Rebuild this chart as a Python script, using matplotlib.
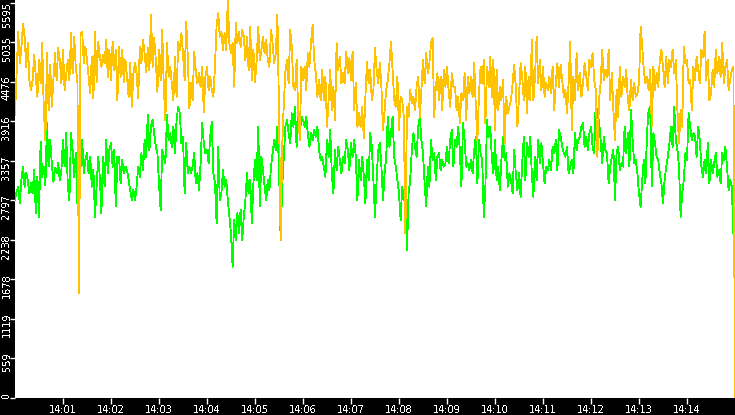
import numpy as np
import matplotlib
matplotlib.use("Agg")
import matplotlib.pyplot as plt
import matplotlib.dates as mdates
from matplotlib.transforms import ScaledTranslation

plt.rcParams["text.antialiased"] = False

# one sample every 2 seconds from 14:00:00 to 14:15:00
start = np.datetime64("2024-01-01T14:00:00")
step_seconds = 2

gold = [
    4005, 4594, 5184, 4736, 4972, 5292, 5113, 4689, 5019, 4500,
    4358, 4500, 4854, 4547, 4264, 4783, 4453, 5019, 4075, 3651,
    4877, 4075, 4712, 4123, 4500, 4877, 4500, 4948, 4783, 4453,
    4924, 4358, 4571, 4783, 4500, 5160, 4594, 5113, 4665, 4500,
    1481, 5160, 5184, 4736, 4972, 4783, 4547, 4311, 4830, 4240,
    5184, 4476, 5042, 4830, 4689, 4854, 4736, 5066, 4547, 4924,
    4500, 5042, 4641, 4924, 4217, 4972, 4547, 4924, 4476, 4783,
    4547, 4264, 4736, 4123, 4594, 4736, 4594, 4240, 4972, 4736,
    5066, 4877, 4618, 4948, 4641, 5420, 4689, 5090, 4783, 4335,
    4924, 4500, 5207, 4406, 3934, 5019, 4547, 4689, 4453, 4217,
    4830, 4264, 5042, 4924, 5160, 4877, 4500, 5325, 4830, 4099,
    4453, 4217, 4901, 4618, 4453, 4594, 4406, 4689, 4050, 4547,
    4689, 4358, 4547, 4358, 4264, 4712, 5278, 5443, 5113, 5184,
    4924, 5160, 4924, 5632, 5019, 4877, 5019, 4406, 5302, 5019,
    5184, 4972, 5207, 5113, 4783, 5113, 4641, 5255, 4500, 4924,
    4476, 4759, 5255, 4783, 4924, 5113, 4877, 5066, 4783, 4689,
    5207, 5019, 4736, 4877, 5420, 4075, 2236, 3556, 4170, 4618,
    4783, 4453, 5207, 4972, 4406, 4358, 4783, 4028, 3651, 4689,
    4500, 4689, 4358, 4877, 4689, 5019, 5278, 4783, 4594, 4264,
    4500, 4217, 4641, 4217, 4547, 3840, 4217, 4641, 4075, 4406,
    3934, 5019, 4641, 4830, 4453, 4594, 4453, 4901, 4594, 4807,
    4500, 4901, 4075, 4453, 3840, 4028, 3840, 4123, 3674, 4264,
    4759, 4453, 4641, 4217, 4358, 4948, 4641, 4453, 4736, 4406,
    3792, 4075, 4358, 4500, 4736, 5042, 4641, 4217, 4123, 4547,
    3792, 4264, 4217, 3981, 2330, 4123, 3981, 4358, 4170, 4264,
    4075, 4406, 4547, 3981, 4358, 4783, 4453, 4877, 4594, 4736,
    5019, 5090, 3981, 4406, 4594, 4217, 4547, 4075, 4641, 4406,
    4689, 4358, 4123, 4594, 4406, 4406, 4075, 4264, 3887, 4311,
    4217, 4594, 3934, 4547, 4311, 4547, 4264, 4736, 4123, 3651,
    4311, 4689, 4453, 4783, 3887, 4689, 4406, 4830, 4264, 4783,
    3792, 4641, 4075, 4406, 4217, 4500, 3604, 4264, 4028, 4123,
    4217, 4453, 4712, 4406, 3840, 4264, 4736, 4547, 4217, 4689,
    4028, 4547, 4217, 5066, 4217, 4547, 5113, 4453, 4783, 4358,
    4689, 4264, 4453, 4358, 4547, 4311, 4689, 4075, 4453, 4736,
    4406, 4712, 4500, 4264, 4358, 4028, 4453, 5042, 3792, 4547,
    4217, 4877, 4358, 4594, 4264, 4453, 4736, 4547, 4358, 4783,
    4689, 4877, 4500, 4358, 3415, 4217, 4453, 4924, 4500, 4641,
    4547, 4924, 4217, 4594, 4075, 3651, 4358, 3981, 4689, 4264,
    4547, 4406, 4641, 4217, 4075, 4500, 4217, 4453, 4264, 4311,
    4453, 5255, 4972, 4641, 4453, 4547, 4358, 4641, 3840, 4689,
    4358, 4594, 4406, 4783, 4924, 4689, 4406, 4830, 4453, 4783,
    4689, 4924, 4594, 4783, 4075, 3604, 4075, 3840, 4972, 4736,
    4783, 4453, 4500, 4075, 4689, 4500, 4830, 4641, 4453, 4924,
    4830, 5184, 4500, 4783, 4217, 4311, 4641, 4406, 4924, 4594,
    4830, 4547, 5019, 4453, 4689, 4783, 4358, 4500, 4641, 4689,
    0,
]

green = [
    2802, 2920, 2991, 2755, 3085, 3274, 2991, 3179, 3085, 2896,
    3038, 2896, 3226, 2613, 3132, 2566, 3627, 3132, 3274, 3014,
    3887, 3274, 3651, 3321, 3061, 3250, 3179, 3321, 3085, 3226,
    3651, 3274, 3745, 2991, 2802, 3745, 3509, 3132, 3462, 2755,
    3792, 3274, 3651, 3179, 3368, 3462, 3179, 3415, 2991, 3226,
    2566, 2991, 3415, 3132, 2613, 3415, 2991, 3651, 3179, 3509,
    3604, 3274, 3509, 2708, 3415, 3415, 3038, 3368, 3179, 3274,
    3226, 3085, 2943, 2802, 2943, 2802, 2991, 3274, 3132, 3462,
    3226, 3651, 3415, 4005, 3509, 3840, 3934, 3745, 3556, 3462,
    3038, 2660, 3509, 3415, 3321, 4005, 3651, 3745, 3556, 3840,
    3462, 3934, 4123, 4028, 3604, 3698, 2896, 3604, 3179, 3274,
    3179, 3274, 3462, 3038, 3179, 2943, 3321, 3887, 3604, 3462,
    3509, 3321, 3698, 3910, 3179, 3038, 2472, 3556, 2802, 2896,
    3226, 2991, 3085, 2802, 2566, 2330, 1858, 2519, 2236, 2613,
    2330, 2660, 2236, 2566, 2802, 3179, 2896, 3085, 2472, 3038,
    3368, 3085, 3840, 2708, 3415, 3226, 2991, 2802, 3085, 2943,
    3274, 3462, 3651, 3509, 3840, 3274, 2259, 2991, 3415, 3840,
    3934, 3745, 3604, 4028, 3840, 4123, 3556, 4075, 3745, 3981,
    3934, 3840, 3981, 3745, 3556, 3745, 3651, 3792, 3698, 3840,
    3509, 3368, 3415, 3274, 3132, 3651, 3415, 3792, 3179, 2896,
    3509, 3226, 3556, 3368, 3179, 3415, 3321, 3651, 3509, 3226,
    3604, 3415, 3651, 3415, 2802, 3368, 3085, 3415, 3132, 2755,
    3368, 3085, 3745, 3556, 3085, 2566, 3085, 3509, 3604, 3274,
    2802, 3179, 3415, 3981, 3556, 3745, 3981, 3415, 3274, 3085,
    2896, 2519, 2991, 2802, 2943, 2094, 2896, 3085, 3509, 3745,
    3556, 3415, 3840, 3981, 3651, 3462, 3038, 2708, 3274, 2991,
    3651, 3368, 3462, 3085, 3415, 3462, 3226, 3368, 3274, 3321,
    3556, 3321, 3651, 3792, 3274, 3651, 3556, 3840, 3509, 2991,
    3887, 3651, 3274, 3321, 3226, 3368, 3179, 3509, 3698, 3038,
    3651, 3462, 3368, 2566, 2991, 3934, 3698, 3840, 3415, 3179,
    3651, 3085, 3274, 2943, 3368, 3698, 3368, 3462, 2991, 3179,
    3085, 2896, 3509, 3179, 2943, 3179, 2849, 3321, 3698, 3085,
    3604, 3415, 3698, 3179, 2849, 3415, 3085, 3651, 3321, 3604,
    3321, 3038, 3274, 3226, 3368, 3226, 3556, 3462, 3651, 3226,
    3792, 3698, 3556, 3462, 3415, 3556, 3179, 3274, 3368, 3179,
    3745, 3509, 3651, 3698, 3840, 3887, 3556, 3698, 3509, 3745,
    3840, 3556, 3462, 4217, 3981, 3934, 3651, 3321, 3698, 3509,
    3462, 3038, 3274, 3415, 3509, 2802, 3462, 3556, 3226, 3321,
    3274, 3840, 3462, 3745, 3274, 4075, 3651, 3321, 3368, 3179,
    2896, 2708, 3085, 3368, 3038, 3745, 4075, 4123, 2991, 3745,
    3604, 3415, 3368, 3179, 3038, 2755, 3085, 3274, 3415, 3604,
    3840, 3556, 4123, 3651, 3509, 3274, 2566, 2896, 3085, 3462,
    3368, 4028, 3840, 3651, 3745, 3698, 3415, 3840, 3651, 3274,
    3132, 3368, 3179, 3604, 3038, 3368, 3179, 3321, 3462, 3132,
    3226, 3038, 3462, 3368, 3556, 3274, 2943, 3085, 2991, 2330,
    1434,
]

y_ticks = [0, 559.5, 1119, 1678.5, 2238, 2797.5, 3357, 3916.5, 4476, 5035.5, 5595]
y_tick_labels = ["0", "559", "1119", "1678", "2238", "2797", "3357", "3916", "4476", "5035", "5595"]

times = start + np.arange(len(gold)) * np.timedelta64(step_seconds, "s")

W, H = 735, 415
fig = plt.figure(figsize=(W / 100, H / 100), dpi=100, facecolor="black")
ax = fig.add_axes([15 / W, 17 / H, 1 - 15 / W, 1 - 17 / H])
ax.set_facecolor("white")
for s in ax.spines.values():
    s.set_visible(False)

ax.plot(times, green, color="#00FF00", lw=0.6, antialiased=False)
ax.plot(times, gold, color="#FFC200", lw=0.6, antialiased=False)

ax.set_xlim(start, start + np.timedelta64(900, "s"))
ax.set_ylim(0, 5632)

ax.xaxis.set_major_locator(mdates.MinuteLocator(byminute=range(1, 15)))
ax.xaxis.set_major_formatter(mdates.DateFormatter("%H:%M"))
ax.tick_params(axis="x", colors="white", length=4.5, width=1, direction="out",
               labelsize=7, pad=0.3)

ax.set_yticks(y_ticks)
ax.set_yticklabels(y_tick_labels)
ax.tick_params(axis="y", colors="white", length=3.5, width=1, direction="out",
               labelsize=7, pad=0.3)

ax_h_px = H - 17
for lab, v in zip(ax.get_yticklabels(), y_ticks):
    tick_from_top = ax_h_px * (1 - v / 5632)
    up = min(6, tick_from_top - 2)
    off = ScaledTranslation(2 / 100, up / 100, fig.dpi_scale_trans)
    lab.set_rotation(90)
    lab.set_va("top")
    lab.set_ha("right")
    lab.set_transform(lab.get_transform() + off)

fig.savefig("out.png", dpi=100, facecolor="black")
